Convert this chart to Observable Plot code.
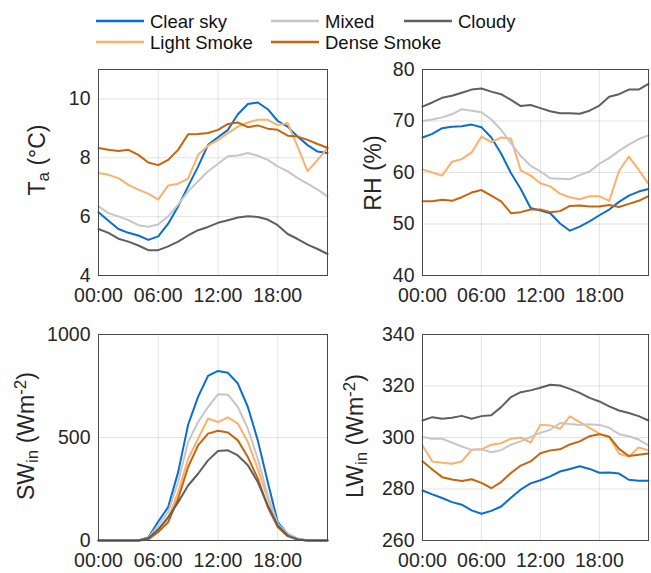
<!DOCTYPE html>
<html>
<head>
<meta charset="utf-8">
<script src="https://cdn.jsdelivr.net/npm/d3@7"></script>
<script src="https://cdn.jsdelivr.net/npm/@observablehq/plot@0.6"></script>
<style>
  html, body { margin: 0; padding: 0; background: #fff; }
  #chart { position: relative; width: 651px; height: 573px; font-family: "Liberation Sans", Arial, sans-serif; }
  #chart svg { position: absolute; overflow: visible; }
</style>
</head>
<body>
<div id="chart"></div>
<script>
// ---- categories ----
const seriesNames = ["Clear sky", "Light Smoke", "Mixed", "Dense Smoke", "Cloudy"];
const seriesColors = ["#0a6ed1", "#fdb06a", "#c6c6c6", "#c8640a", "#5f5f5f"];
const hours = d3.range(0, 24);
const xTicks = [0, 6, 12, 18];

// ---- Air temperature (°C) ----
const taClear = [6.15,5.86,5.58,5.45,5.36,5.21,5.33,5.76,6.35,7.03,7.70,8.44,8.70,8.95,9.48,9.83,9.88,9.65,9.25,9.06,8.72,8.43,8.21,8.16];
const taLight = [7.48,7.42,7.31,7.08,6.92,6.78,6.58,7.06,7.12,7.29,8.10,8.41,8.61,8.84,9.06,9.20,9.29,9.29,9.11,9.18,8.38,7.54,7.93,8.33];
const taMixed = [6.35,6.12,6.01,5.88,5.71,5.66,5.73,6.01,6.41,6.86,7.20,7.54,7.80,8.05,8.08,8.16,8.07,7.93,7.71,7.54,7.31,7.12,6.92,6.69];
const taDense = [8.33,8.27,8.23,8.27,8.10,7.84,7.75,7.93,8.27,8.80,8.81,8.84,8.95,9.15,9.20,9.04,9.10,8.99,8.95,8.75,8.72,8.61,8.47,8.34];
const taCloudy = [5.58,5.45,5.25,5.15,5.02,4.86,4.86,4.99,5.15,5.36,5.54,5.65,5.79,5.88,5.97,6.01,5.99,5.90,5.71,5.41,5.24,5.05,4.90,4.73];

// ---- Relative humidity (%) ----
const rhClear = [66.8,67.5,68.6,68.9,69.0,69.3,68.8,66.8,63.7,59.9,56.8,53.1,52.6,52.1,50.1,48.7,49.5,50.5,51.7,52.8,54.3,55.5,56.3,56.8];
const rhLight = [60.6,60.0,59.4,62.1,62.6,63.9,67.0,65.9,66.8,66.6,60.4,59.4,57.9,57.3,55.9,55.2,54.8,55.4,55.4,54.5,60.3,63.1,60.5,57.8];
const rhMixed = [70.0,70.3,70.7,71.3,72.3,72.0,71.7,70.3,68.3,65.7,63.2,61.3,60.2,58.9,58.8,58.7,59.5,60.2,61.7,62.8,64.2,65.4,66.5,67.2];
const rhDense = [54.4,54.4,54.7,54.5,55.2,56.1,56.6,55.5,54.4,52.1,52.3,52.8,52.8,52.3,52.5,53.5,53.6,53.4,53.4,53.7,53.3,53.9,54.5,55.4];
const rhCloudy = [72.8,73.6,74.5,74.9,75.5,76.1,76.3,75.7,75.2,74.1,72.9,73.1,72.5,71.9,71.5,71.5,71.4,72.0,73.0,74.7,75.2,76.1,76.1,77.2];

// ---- Incoming shortwave (W m-2) ----
const swClear = [0,0,0,0,0,15,92,162,332,562,697,799,823,814,762,648,486,284,89,32,8,0,0,0];
const swLight = [0,0,0,0,0,8,57,105,235,397,494,592,575,598,567,478,348,203,73,28,6,0,0,0];
const swMixed = [0,0,0,0,0,11,73,138,284,478,575,648,710,708,648,543,397,219,81,32,8,0,0,0];
const swDense = [0,0,0,0,0,5,41,89,203,357,462,519,533,524,486,405,300,162,65,21,5,0,0,0];
const swCloudy = [0,0,0,0,0,11,53,113,186,267,324,389,434,438,413,365,284,170,73,24,5,0,0,0];

// ---- Incoming longwave (W m-2) ----
const lwClear = [279.4,277.9,276.5,274.9,273.9,271.7,270.4,271.5,273.2,276.6,279.8,282.2,283.4,284.9,286.8,287.8,288.8,287.8,286.3,286.4,286.0,283.6,283.2,283.2];
const lwLight = [296.9,290.7,290.2,289.8,290.7,295.2,295.4,297.2,297.8,299.5,300.0,298.0,305.0,304.7,303.4,308.2,306.0,303.7,301.5,300.2,293.7,292.6,296.1,295.0];
const lwMixed = [300.2,299.5,299.5,298.0,296.5,295.2,295.4,294.3,295.1,297.2,298.5,300.2,301.8,303.0,305.6,305.2,304.9,305.1,304.9,303.8,301.3,300.5,299.2,296.9];
const lwDense = [290.8,287.6,284.6,283.7,283.1,283.8,282.4,280.3,282.7,286.2,289.1,290.7,293.9,295.0,295.4,297.3,298.5,300.5,301.3,300.3,295.6,292.8,293.3,293.8];
const lwCloudy = [306.6,307.9,307.3,307.7,308.4,307.3,308.3,308.6,311.8,315.7,317.6,318.3,319.3,320.5,320.2,318.9,317.3,315.4,314.0,312.1,310.5,309.5,308.3,306.6];

// ---- y tick labels ----
const taTicks = [4, 6, 8, 10];
const rhTicks = [40, 50, 60, 70, 80];
const swTicks = [0, 500, 1000];
const lwTicks = [260, 280, 300, 320, 340];

const chart = document.getElementById("chart");
const FONT = "'Liberation Sans', Arial, sans-serif";
const TXT = "#262626";

function toRows(arrays) {
  return arrays.flatMap((vals, i) => vals.map((v, j) => ({h: hours[j], v, name: seriesNames[i]})));
}

function panel({arrays, domain, ticks, left, top, width, height, labelParts, labelX, labelY}) {
  const rows = toRows(arrays);
  const svg = Plot.plot({
    width, height,
    marginLeft: 98, marginRight: 3, marginTop: 69, marginBottom: height - 69 - 206,
    style: {fontFamily: FONT, fontSize: "19.5px", color: TXT, background: "transparent"},
    x: {domain: [0, 23], ticks: xTicks, tickFormat: d => String(d).padStart(2, "0") + ":00", tickSize: 0, tickPadding: 13, label: null},
    y: {domain, ticks, tickFormat: d => String(d), tickSize: 0, tickPadding: 8, label: null},
    color: {domain: seriesNames, range: seriesColors},
    marks: [
      Plot.gridX(xTicks, {stroke: "#000", strokeOpacity: 0.11, strokeWidth: 1}),
      Plot.gridY(ticks, {stroke: "#000", strokeOpacity: 0.11, strokeWidth: 1}),
      Plot.lineY(rows, {x: "h", y: "v", z: "name", stroke: "name", strokeWidth: 2, curve: "linear"}),
      Plot.frame({stroke: "#4a4a4a", strokeWidth: 1})
    ]
  });
  svg.style.left = left + "px";
  svg.style.top = top + "px";
  const t = d3.select(svg).append("text")
    .attr("transform", `translate(${labelX},${labelY}) rotate(-90)`)
    .attr("text-anchor", "middle")
    .attr("fill", TXT)
    .style("font-family", FONT)
    .style("font-size", "23px");
  for (const p of labelParts) {
    const s = t.append("tspan").text(p.t);
    if (p.sub) s.attr("baseline-shift", "-25%").style("font-size", "17px");
    if (p.sup) s.attr("baseline-shift", "45%").style("font-size", "17px");
  }
  chart.appendChild(svg);
}

panel({arrays: [taClear, taLight, taMixed, taDense, taCloudy], domain: [4, 11], ticks: taTicks,
  left: 0, top: 0, width: 330, height: 310,
  labelParts: [{t: "T"}, {t: "a", sub: true}, {t: " (°C)"}], labelX: 45, labelY: 160});
panel({arrays: [rhClear, rhLight, rhMixed, rhDense, rhCloudy], domain: [40, 80], ticks: rhTicks,
  left: 324, top: 0, width: 327, height: 310,
  labelParts: [{t: "RH (%)"}], labelX: 57, labelY: 173});
panel({arrays: [swClear, swLight, swMixed, swDense, swCloudy], domain: [0, 1000], ticks: swTicks,
  left: 0, top: 265, width: 330, height: 308,
  labelParts: [{t: "SW"}, {t: "in", sub: true}, {t: " (Wm"}, {t: "-2", sup: true}, {t: ")"}], labelX: 34, labelY: 171});
panel({arrays: [lwClear, lwLight, lwMixed, lwDense, lwCloudy], domain: [260, 340], ticks: lwTicks,
  left: 324, top: 265, width: 327, height: 308,
  labelParts: [{t: "LW"}, {t: "in", sub: true}, {t: " (Wm"}, {t: "-2", sup: true}, {t: ")"}], labelX: 39, labelY: 171});

// ---- legend ----
const legendCols = [96, 271, 404];
const legendRows = [21, 42];
const leg = d3.select(chart).append("svg")
  .attr("width", 651).attr("height", 60)
  .style("left", "0px").style("top", "0px");
seriesNames.forEach((name, i) => {
  const x = legendCols[Math.floor(i / 2)];
  const y = legendRows[i % 2];
  leg.append("line").attr("x1", x).attr("x2", x + 48).attr("y1", y).attr("y2", y)
    .attr("stroke", seriesColors[i]).attr("stroke-width", 2.5);
  leg.append("text").attr("x", x + 54).attr("y", y + 6.5).text(name)
    .attr("fill", "#111").style("font-family", FONT).style("font-size", "18.5px");
});
</script>
</body>
</html>
